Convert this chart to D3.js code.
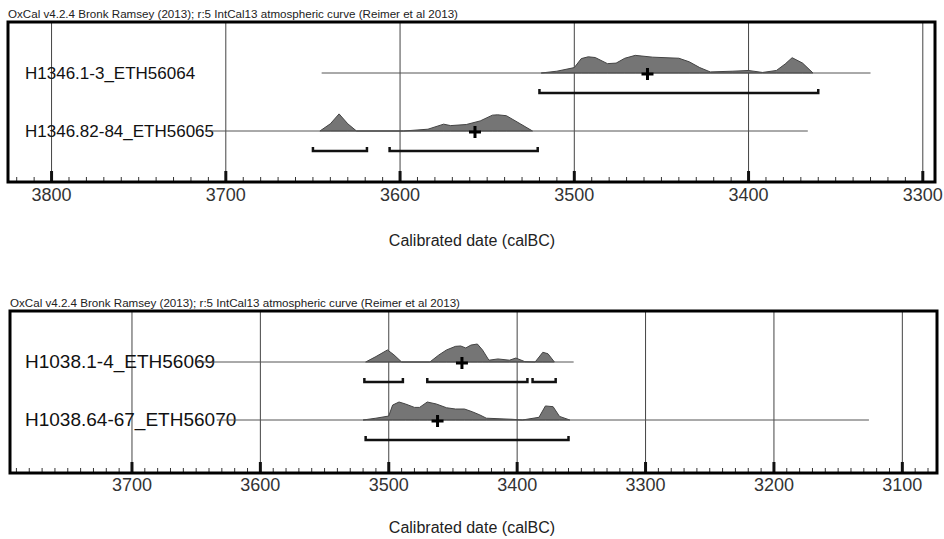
<!DOCTYPE html>
<html>
<head>
<meta charset="utf-8">
<script src="https://cdn.jsdelivr.net/npm/d3@7"></script>
<style>
html,body{margin:0;padding:0;background:#fff;}
svg{display:block;font-family:"Liberation Sans",Arial,sans-serif;}
</style>
</head>
<body>
<svg id="chart" width="944" height="539"></svg>
<script>
// ---------- DATA ----------
const headerText = "OxCal v4.2.4 Bronk Ramsey (2013); r:5 IntCal13 atmospheric curve (Reimer et al 2013)";
const axisTitle = "Calibrated date (calBC)";

// Panel 1
const p1Domain = [3825, 3293];
const p1Ticks = [3800, 3700, 3600, 3500, 3400, 3300];
const p1Labels = ["H1346.1-3_ETH56064", "H1346.82-84_ETH56065"];
const p1Lines = [[3645, 3330], [3712, 3366]];
const p1Means = [3458, 3557];
const p1Ranges = [[[3520, 3360]], [[3650, 3619], [3606, 3521]]];
const distH1346_1 = [[3519,0],[3510,0.1],[3500,0.3],[3496,0.8],[3492,0.9],[3488,0.86],[3481,0.52],[3476,0.55],[3471,0.82],[3465,0.98],[3455,0.88],[3440,0.82],[3434,0.62],[3428,0.3],[3422,0.06],[3409,0.1],[3400,0.14],[3392,0.03],[3384,0.14],[3379,0.5],[3375,0.85],[3369,0.55],[3363,0]];
const distH1346_82 = [[3646,0],[3640,0.4],[3635,0.95],[3630,0.4],[3625,0],[3598,0],[3584,0.1],[3575,0.38],[3571,0.3],[3562,0.36],[3554,0.56],[3547,0.88],[3544,0.9],[3539,0.85],[3531,0.4],[3524,0]];

// Panel 2
const p2Domain = [3795, 3073];
const p2Ticks = [3700, 3600, 3500, 3400, 3300, 3200, 3100];
const p2Labels = ["H1038.1-4_ETH56069", "H1038.64-67_ETH56070"];
const p2Lines = [[3650, 3356], [3634, 3126]];
const p2Means = [3443, 3462];
const p2Ranges = [[[3519, 3489], [3470, 3392], [3388, 3370]], [[3518, 3360]]];
const distH1038_1 = [[3518,0],[3510,0.3],[3501,0.67],[3496,0.4],[3490,0],[3468,0],[3461,0.39],[3455,0.67],[3448,0.87],[3444,0.89],[3440,0.78],[3436,0.94],[3431,1],[3427,0.67],[3422,0.1],[3415,0.17],[3406,0.1],[3401,0.22],[3394,0.02],[3386,0],[3380,0.54],[3376,0.46],[3371,0]];
const distH1038_64 = [[3520,0],[3510,0.1],[3500,0.22],[3497,0.83],[3492,1],[3487,0.89],[3480,0.7],[3476,0.7],[3470,1],[3463,0.89],[3455,0.68],[3448,0.61],[3441,0.61],[3435,0.46],[3429,0.28],[3424,0.1],[3404,0.04],[3396,0],[3383,0.15],[3378,0.78],[3372,0.74],[3367,0.2],[3359,0]];

const panels = [
  {domain:p1Domain, ticks:p1Ticks, labels:p1Labels, lines:p1Lines, means:p1Means, ranges:p1Ranges, dists:[distH1346_1, distH1346_82],
   x0:8, x1:935, y0:22, y1:182, rows:[73, 131], header:18, tickLab:201, title:246, labSize:17},
  {domain:p2Domain, ticks:p2Ticks, labels:p2Labels, lines:p2Lines, means:p2Means, ranges:p2Ranges, dists:[distH1038_1, distH1038_64],
   x0:10, x1:937, y0:311, y1:473, rows:[362, 420], header:307, tickLab:491, title:533, labSize:19}
];

const svg = d3.select("#chart");

panels.forEach(p => {
  const g = svg.append("g");
  const x = d3.scaleLinear().domain(p.domain).range([p.x0, p.x1]);
  const h = d3.scaleLinear().domain([0, 1]).range([0, 18]);

  // header
  g.append("text").attr("x", p.x0).attr("y", p.header)
    .attr("font-size", 10).attr("fill", "#222")
    .attr("textLength", 450).attr("lengthAdjust", "spacingAndGlyphs")
    .text(headerText);

  // gridlines
  g.selectAll(".grid").data(p.ticks).enter().append("line")
    .attr("x1", d => x(d)).attr("x2", d => x(d))
    .attr("y1", p.y0).attr("y2", p.y1)
    .attr("stroke", "#444").attr("stroke-width", 1);

  // minor ticks
  const minor = d3.range(Math.ceil(p.domain[1] / 10) * 10, p.domain[0], 10);
  g.selectAll(".minor").data(minor).enter().append("line")
    .attr("x1", d => x(d)).attr("x2", d => x(d))
    .attr("y1", p.y1 - 5).attr("y2", p.y1)
    .attr("stroke", "#333").attr("stroke-width", 1);
  // major ticks
  g.selectAll(".major").data(p.ticks).enter().append("line")
    .attr("x1", d => x(d)).attr("x2", d => x(d))
    .attr("y1", p.y1 - 11).attr("y2", p.y1)
    .attr("stroke", "#111").attr("stroke-width", 3);

  // rows
  p.labels.forEach((lab, i) => {
    const y = p.rows[i];
    const area = d3.area().x(d => x(d[0])).y0(y).y1(d => y - h(d[1]));
    g.append("path").datum(p.dists[i]).attr("d", area)
      .attr("fill", "#757575").attr("stroke", "#444").attr("stroke-width", 1);
    // label
    g.append("text").attr("x", 25).attr("y", y + 6)
      .attr("font-size", p.labSize).attr("fill", "#111").text(lab);
    g.append("line").attr("x1", x(p.lines[i][0])).attr("x2", x(p.lines[i][1]))
      .attr("y1", y).attr("y2", y).attr("stroke", "#555").attr("stroke-width", 1);
    // mean cross
    const mx = x(p.means[i]);
    g.append("path").attr("d", `M${mx-6},${y+1}H${mx+6}M${mx},${y-5}V${y+7}`)
      .attr("stroke", "#000").attr("stroke-width", 3).attr("fill", "none");
    // ranges
    p.ranges[i].forEach(r => {
      const a = x(r[0]), b = x(r[1]), yy = y + 20;
      g.append("path").attr("d", `M${a},${yy-4}V${yy}H${b}V${yy-4}`)
        .attr("stroke", "#111").attr("stroke-width", 2.5).attr("fill", "none");
    });
  });

  // frame
  g.append("rect").attr("x", p.x0).attr("y", p.y0)
    .attr("width", p.x1 - p.x0).attr("height", p.y1 - p.y0)
    .attr("fill", "none").attr("stroke", "#000").attr("stroke-width", 3);

  // tick labels
  g.selectAll(".tl").data(p.ticks).enter().append("text")
    .attr("x", d => x(d)).attr("y", p.tickLab)
    .attr("text-anchor", "middle").attr("font-size", 18).attr("fill", "#333")
    .text(d => d);

  // axis title
  g.append("text").attr("x", 472).attr("y", p.title)
    .attr("text-anchor", "middle").attr("font-size", 16).attr("fill", "#222")
    .text(axisTitle);
});
</script>
</body>
</html>
